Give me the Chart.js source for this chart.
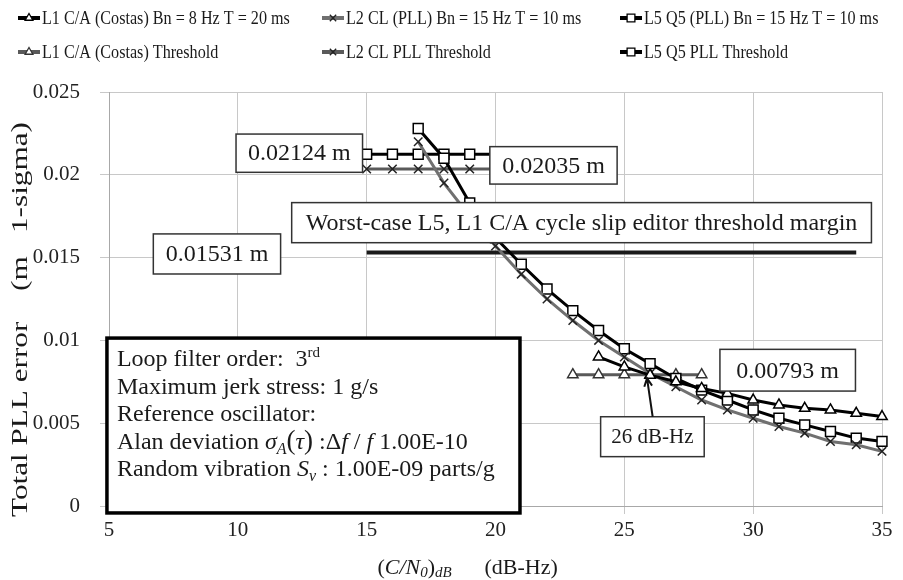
<!DOCTYPE html>
<html>
<head>
<meta charset="utf-8">
<script src="https://cdn.jsdelivr.net/npm/chart.js@4.4.0/dist/chart.umd.min.js"></script>
<style>
  html, body { margin: 0; padding: 0; background: #fff; }
</style>
</head>
<body>
<canvas id="chart" width="903" height="580"></canvas>
<script>
// C/N0 points for the tracking-loop curves
const cn0Pll = [17, 18, 19, 20, 21, 22, 23, 24, 25, 26, 27, 28, 29, 30, 31, 32, 33, 34, 35];
const l2clError = [0.0220, 0.0195, 0.0175, 0.0157, 0.0140, 0.0125, 0.0112, 0.0100, 0.0090, 0.0080,
  0.0072, 0.0064, 0.0058, 0.0053, 0.0048, 0.0044, 0.0039, 0.0037, 0.0033];
const l5q5Error = [0.0228, 0.0210, 0.0183, 0.0162, 0.0146, 0.0131, 0.0118, 0.0106, 0.0095, 0.0086,
  0.0077, 0.0070, 0.0064, 0.0058, 0.0053, 0.0049, 0.0045, 0.0041, 0.0039];

const cn0Costas = [24, 25, 26, 27, 28, 29, 30, 31, 32, 33, 34, 35];
const l1caError = [0.0090, 0.0084, 0.0079, 0.0075, 0.0071, 0.0068, 0.0064, 0.0061, 0.0059, 0.0058, 0.0056, 0.0054];

// thresholds
const cn0CostasThreshold = [23, 24, 25, 26, 27, 28];
const l1caThreshold = [0.00793, 0.00793, 0.00793, 0.00793, 0.00793, 0.00793];
const cn0PllThreshold = [15, 16, 17, 18, 19, 20];
const l2clThreshold = [0.02035, 0.02035, 0.02035, 0.02035, 0.02035, 0.02035];
const l5q5Threshold = [0.02124, 0.02124, 0.02124, 0.02124, 0.02124, 0.02124];
const cn0Margin = [15, 34];
const marginLevel = [0.01531, 0.01531];

const xTickLabels = ["5", "10", "15", "20", "25", "30", "35"];
const yTickLabels = ["0", "0.005", "0.01", "0.015", "0.02", "0.025"];

const SERIF = "'Liberation Serif', 'Times New Roman', serif";

function series(label, xs, ys, color, style, radius, markColor) {
  return {
    label: label,
    data: xs.map((x, i) => ({ x: x, y: ys[i] })),
    showLine: true,
    borderColor: color,
    borderWidth: 3,
    pointStyle: style,
    pointRadius: radius,
    pointBackgroundColor: "#fff",
    pointBorderColor: markColor,
    pointBorderWidth: 1.5,
    clip: false,
  };
}

const datasets = [
  series("L1 C/A (Costas) Bn = 8 Hz T = 20 ms", cn0Costas, l1caError, "#000", "triangle", 6, "#000"),
  series("L2 CL (PLL) Bn = 15 Hz T = 10 ms", cn0Pll, l2clError, "#707070", "crossRot", 6, "#222"),
  series("L5 Q5 (PLL) Bn = 15 Hz T = 10 ms", cn0Pll, l5q5Error, "#000", "rect", 7, "#000"),
  series("L1 C/A (Costas) Threshold", cn0CostasThreshold, l1caThreshold, "#5a5a5a", "triangle", 6, "#333"),
  series("L2 CL PLL Threshold", cn0PllThreshold, l2clThreshold, "#5a5a5a", "crossRot", 6, "#222"),
  series("L5 Q5 PLL Threshold", cn0PllThreshold, l5q5Threshold, "#000", "rect", 7, "#000"),
];
const margin = series("", cn0Margin, marginLevel, "#1a1a1a", false, 0, "#000");
margin.borderWidth = 4;
datasets.push(margin);

// annotation boxes, corners given in chart units
const labelBoxes = [
  { text: "0.02124 m", from: [9.93, 0.02246], to: [14.84, 0.02015], size: 24 },
  { text: "0.02035 m", from: [19.78, 0.02170], to: [24.72, 0.01944], size: 24 },
  { text: "Worst-case L5, L1 C/A cycle slip editor threshold margin", from: [12.09, 0.01832], to: [34.59, 0.01590], size: 24 },
  { text: "0.01531 m", from: [6.72, 0.01643], to: [11.66, 0.01401], size: 24 },
  { text: "0.00793 m", from: [28.71, 0.00946], to: [33.97, 0.00694], size: 24 },
  { text: "26 dB-Hz", from: [24.08, 0.00539], to: [28.10, 0.00298], size: 21 },
];
const arrowFrom = [26.1, 0.00539];
const arrowTo = [25.88, 0.00772];
const infoBox = { from: [4.92, 0.01014], to: [20.95, -0.00042] };

function richText(ctx, segs, x, y) {
  segs.forEach((s) => {
    ctx.font = (s.italic ? "italic " : "") + (s.size || 24) + "px " + SERIF;
    ctx.fillText(s.t, x, y + (s.dy || 0));
    x += ctx.measureText(s.t).width;
  });
}

const infoLines = [
  [{ t: "Loop filter order:  3" }, { t: "rd", size: 15, dy: -9 }],
  [{ t: "Maximum jerk stress: 1 g/s" }],
  [{ t: "Reference oscillator:" }],
  [{ t: "Alan deviation " }, { t: "σ", italic: true }, { t: "A", italic: true, size: 16, dy: 5 },
    { t: "(", size: 27 }, { t: "τ", italic: true }, { t: ")", size: 27 }, { t: " :Δ" }, { t: "f", italic: true },
    { t: " / " }, { t: "f", italic: true }, { t: " 1.00E-10" }],
  [{ t: "Random vibration " }, { t: "S", italic: true }, { t: "v", italic: true, size: 16, dy: 5 },
    { t: " : 1.00E-09 parts/g" }],
];

const decor = {
  id: "decor",
  afterDraw(chart) {
    const ctx = chart.ctx;
    const sx = chart.scales.x;
    const sy = chart.scales.y;
    const px = (p) => [sx.getPixelForValue(p[0]), sy.getPixelForValue(p[1])];
    const area = chart.chartArea;

    ctx.save();

    // label boxes
    labelBoxes.forEach((b) => {
      const a = px(b.from);
      const c = px(b.to);
      ctx.fillStyle = "#fff";
      ctx.fillRect(a[0], a[1], c[0] - a[0], c[1] - a[1]);
      ctx.strokeStyle = "#333";
      ctx.lineWidth = 1.5;
      ctx.strokeRect(a[0], a[1], c[0] - a[0], c[1] - a[1]);
      ctx.fillStyle = "#1a1a1a";
      ctx.font = b.size + "px " + SERIF;
      ctx.textAlign = "center";
      ctx.textBaseline = "middle";
      ctx.fillText(b.text, (a[0] + c[0]) / 2, (a[1] + c[1]) / 2 + 1);
    });

    // arrow to 26 dB-Hz crossing
    const f = px(arrowFrom);
    const t = px(arrowTo);
    ctx.strokeStyle = "#111";
    ctx.lineWidth = 2;
    ctx.beginPath();
    ctx.moveTo(f[0], f[1]);
    ctx.lineTo(t[0], t[1]);
    const ang = Math.atan2(t[1] - f[1], t[0] - f[0]);
    ctx.moveTo(t[0] - 9 * Math.cos(ang - 0.45), t[1] - 9 * Math.sin(ang - 0.45));
    ctx.lineTo(t[0], t[1]);
    ctx.lineTo(t[0] - 9 * Math.cos(ang + 0.45), t[1] - 9 * Math.sin(ang + 0.45));
    ctx.stroke();

    // info box
    const i0 = px(infoBox.from);
    const i1 = px(infoBox.to);
    ctx.fillStyle = "#fff";
    ctx.fillRect(i0[0], i0[1], i1[0] - i0[0], i1[1] - i0[1]);
    ctx.strokeStyle = "#000";
    ctx.lineWidth = 3.5;
    ctx.strokeRect(i0[0], i0[1], i1[0] - i0[0], i1[1] - i0[1]);
    ctx.fillStyle = "#1a1a1a";
    ctx.textAlign = "left";
    ctx.textBaseline = "alphabetic";
    infoLines.forEach((line, k) => {
      richText(ctx, line, i0[0] + 10, i0[1] + 28 + k * 27.6);
    });

    // legend
    const colX = [18, 322, 620];
    const rowY = [18, 52];
    chart.data.datasets.forEach((ds, k) => {
      if (!ds.label) return;
      const x = colX[k % 3];
      const y = rowY[Math.floor(k / 3)];
      ctx.strokeStyle = ds.borderColor;
      ctx.lineWidth = 4;
      ctx.beginPath();
      ctx.moveTo(x, y);
      ctx.lineTo(x + 22, y);
      ctx.stroke();
      ctx.fillStyle = "#fff";
      ctx.strokeStyle = ds.pointBorderColor;
      ctx.lineWidth = 1.3;
      Chart.helpers.drawPoint(ctx, { pointStyle: ds.pointStyle, radius: ds.pointRadius - 1.5, rotation: 0, borderWidth: 1.3 }, x + 11, y);
      ctx.save();
      ctx.translate(x + 24, y);
      ctx.scale(0.85, 1);
      ctx.fillStyle = "#1a1a1a";
      ctx.font = "19px " + SERIF;
      ctx.textAlign = "left";
      ctx.textBaseline = "middle";
      ctx.fillText(ds.label, 0, 1);
      ctx.restore();
    });

    // y axis title, stretched along its length like the source figure
    ctx.save();
    ctx.translate(21, area.bottom + 11);
    ctx.rotate(-Math.PI / 2);
    ctx.scale(1.3, 1);
    ctx.fillStyle = "#1a1a1a";
    ctx.font = "24px " + SERIF;
    ctx.textAlign = "left";
    ctx.textBaseline = "middle";
    ctx.fillText("Total PLL error", 0, 0);
    ctx.fillText("(m", 226 / 1.3, 0);
    ctx.fillText("1-sigma)", 284 / 1.3, 0);
    ctx.restore();

    // x axis title
    const cx = (area.left + area.right) / 2;
    const ty = 568;
    ctx.fillStyle = "#1a1a1a";
    ctx.textBaseline = "middle";
    richText(ctx, [{ t: "(", size: 22 }, { t: "C/N", italic: true, size: 22 }, { t: "0", italic: true, size: 15, dy: 5 },
      { t: ")", size: 22 }, { t: "dB", italic: true, size: 15, dy: 5 }], cx - 118, ty);
    ctx.font = "22px " + SERIF;
    ctx.fillText("(dB-Hz)", cx - 11, ty);
    ctx.restore();
  },
};

const gridColor = "#c8c8c8";

new Chart(document.getElementById("chart"), {
  type: "scatter",
  data: { datasets: datasets },
  plugins: [decor],
  options: {
    responsive: false,
    animation: false,
    layout: { padding: { left: 0, top: 92, right: 21, bottom: 0 } },
    plugins: {
      legend: { display: false },
      tooltip: { enabled: false },
    },
    scales: {
      x: {
        type: "linear",
        min: 5,
        max: 35,
        ticks: {
          stepSize: 5,
          padding: 4,
          color: "#222",
          font: { family: SERIF, size: 21 },
          callback: (v, i) => xTickLabels[i],
        },
        grid: { color: gridColor, tickColor: gridColor, tickLength: 8 },
        border: { color: "#a8a8a8" },
        afterFit: (s) => { s.height = 74; },
      },
      y: {
        type: "linear",
        min: 0,
        max: 0.025,
        ticks: {
          stepSize: 0.005,
          padding: 20,
          color: "#222",
          font: { family: SERIF, size: 21 },
          callback: (v, i) => yTickLabels[i],
        },
        grid: { color: gridColor, tickColor: gridColor, tickLength: 9 },
        border: { color: "#a8a8a8" },
        afterFit: (s) => { s.width = 109; },
      },
    },
  },
});
</script>
</body>
</html>
